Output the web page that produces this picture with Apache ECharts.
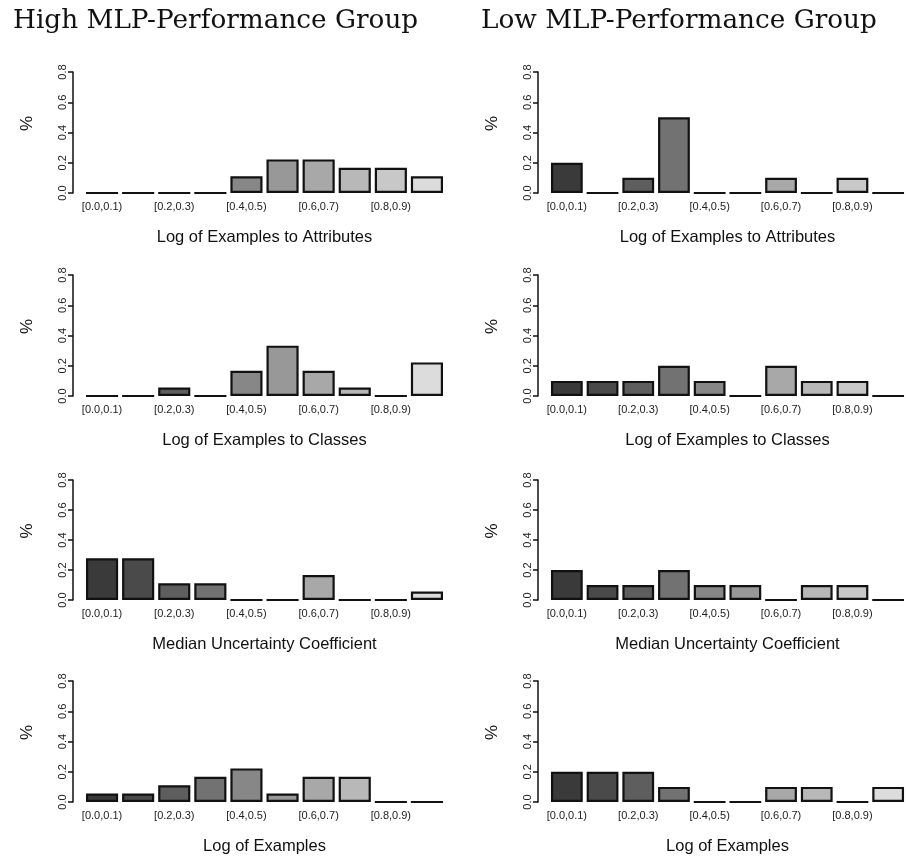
<!DOCTYPE html>
<html>
<head>
<meta charset="utf-8">
<script src="https://cdn.jsdelivr.net/npm/echarts@6/dist/echarts.min.js"></script>
<style>
html,body{margin:0;padding:0;background:#fff;}
#chart{width:906px;height:856px;}
</style>
</head>
<body>
<div id="chart"></div>
<script>
// Data
var categories = ['[0.0,0.1)','[0.1,0.2)','[0.2,0.3)','[0.3,0.4)','[0.4,0.5)','[0.5,0.6)','[0.6,0.7)','[0.7,0.8)','[0.8,0.9)','[0.9,1.0]'];
var groupTitles = ['High MLP-Performance Group', 'Low MLP-Performance Group'];
var panelTitles = ['Log of Examples to Attributes', 'Log of Examples to Classes', 'Median Uncertainty Coefficient', 'Log of Examples'];
var yTicks = [0, 0.2, 0.4, 0.6, 0.8];

var highAttr    = [0, 0, 0, 0, 0.111, 0.222, 0.222, 0.167, 0.167, 0.111];
var highClasses = [0, 0, 0.056, 0, 0.167, 0.333, 0.167, 0.056, 0, 0.222];
var highUncert  = [0.278, 0.278, 0.111, 0.111, 0, 0, 0.167, 0, 0, 0.056];
var highExamples= [0.056, 0.056, 0.111, 0.167, 0.222, 0.056, 0.167, 0.167, 0, 0];

var lowAttr     = [0.2, 0, 0.1, 0.5, 0, 0, 0.1, 0, 0.1, 0];
var lowClasses  = [0.1, 0.1, 0.1, 0.2, 0.1, 0, 0.2, 0.1, 0.1, 0];
var lowUncert   = [0.2, 0.1, 0.1, 0.2, 0.1, 0.1, 0, 0.1, 0.1, 0];
var lowExamples = [0.2, 0.2, 0.2, 0.1, 0, 0, 0.1, 0.1, 0, 0.1];

var barColors = ['#3a3a3a','#4a4a4a','#5e5e5e','#727272','#878787','#989898','#a8a8a8','#b8b8b8','#c8c8c8','#dcdcdc'];

var highSeries = [highAttr, highClasses, highUncert, highExamples];
var lowSeries = [lowAttr, lowClasses, lowUncert, lowExamples];

// Layout
var rowTops = [72, 275, 480, 681];
var rowHeights = [121, 121, 120, 121];
var colLefts = [84, 549];
var gridWidths = [361, 362];
var sans = 'Liberation Sans, Arial, Helvetica, sans-serif';

var grids = [], xAxes = [], yAxes = [], series = [];
var idx = 0;
for (var c = 0; c < 2; c++) {
  for (var r = 0; r < 4; r++) {
    grids.push({left: colLefts[c], top: rowTops[r], width: gridWidths[c], height: rowHeights[r], containLabel: false});
    xAxes.push({
      type: 'category', gridIndex: idx, data: categories,
      axisLine: {show: false}, axisTick: {show: false},
      axisLabel: {interval: 1, fontSize: 11, color: '#222', margin: 8, fontFamily: sans},
      name: panelTitles[r], nameLocation: 'middle', nameGap: 36,
      nameTextStyle: {fontSize: 16.5, color: '#111', fontFamily: sans}
    });
    yAxes.push({
      type: 'value', gridIndex: idx, min: yTicks[0], max: yTicks[yTicks.length-1], interval: 0.2,
      offset: 11,
      axisLine: {show: true, lineStyle: {color: '#111', width: 1.5}},
      axisTick: {show: true, length: 5, lineStyle: {color: '#111', width: 1.5}},
      axisLabel: {rotate: 90, fontSize: 11, color: '#222', margin: 5, fontFamily: sans,
        formatter: function (v) { return v.toFixed(1); }},
      splitLine: {show: false},
      name: '%', nameLocation: 'middle', nameGap: 37, nameRotate: 90,
      nameTextStyle: {fontSize: 17, color: '#111', fontFamily: sans, padding: [0, 0, 0, 18]}
    });
    var vals = (c === 0 ? highSeries : lowSeries)[r];
    series.push({
      type: 'bar', xAxisIndex: idx, yAxisIndex: idx,
      barCategoryGap: '11%',
      data: vals.map(function (v, i) {
        return {value: v, itemStyle: {color: barColors[i]}};
      }),
      itemStyle: {borderColor: '#111', borderWidth: 2.2},
      silent: true, animation: false
    });
    idx++;
  }
}

var chart = echarts.init(document.getElementById('chart'), null, {renderer: 'canvas'});
chart.setOption({
  backgroundColor: '#fff',
  animation: false,
  title: [
    {text: groupTitles[0], left: 8, top: 3, textStyle: {fontFamily: 'DejaVu Serif, serif', fontWeight: 'normal', fontSize: 26.3, color: '#111'}},
    {text: groupTitles[1], left: 476, top: 3, textStyle: {fontFamily: 'DejaVu Serif, serif', fontWeight: 'normal', fontSize: 26.3, color: '#111'}}
  ],
  grid: grids,
  xAxis: xAxes,
  yAxis: yAxes,
  series: series
});
</script>
</body>
</html>
